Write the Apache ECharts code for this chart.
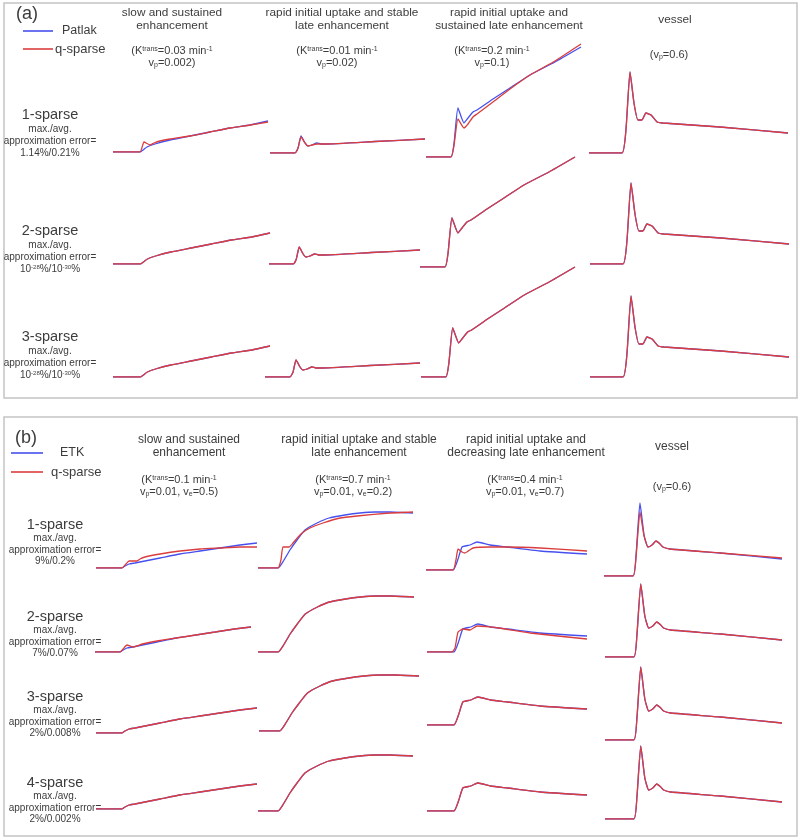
<!DOCTYPE html>
<html><head><meta charset="utf-8">
<script src="https://cdn.jsdelivr.net/npm/echarts@6/dist/echarts.min.js"></script>
<style>html,body{margin:0;padding:0;background:#fff}#c{width:800px;height:840px}</style>
</head><body><div id="c"></div>
<script>
// ---------- Panel (a): Patlak model vs q-sparse (time in % of scan, signal in relative units) ----------
const aSlowT      = [0,17.4,19.4,21.9,27.1,36.8,49.7,62.6,75.5,88.4,100];
const aSlowPatlak = [0,0,2,5,8,12,16,20,24,27,31];
const aSlowQ1T    = [0,17.4,20,23.9,26.5,30.3,36.8,49.7,62.6,75.5,88.4,100];
const aSlowQ1     = [0,0,10,7,9,11,13,16,20,24,27,30];

const aStableT      = [0,16.1,18.1,20,22.6,24.5,27.1,30.3,32.9,35.5,67.7,100];
const aStablePatlak = [0,0,5,17,10,7,8,10,9,9,11.5,14];
const aStableQ1     = [0,0,5,16,10,7,8,9,9,9,11.5,14];

const aSustT      = [0,16.1,18.1,20.6,24.5,27.1,30.3,32.9,43.2,54.2,67.1,83.2,100];
const aSustPatlak = [0,0,14,49,34,39,45,47,58,69,82,95,110];
const aSustQ1     = [0,0,12,38,29,33,40,43,55,68,82,96,113];

const aVesselT      = [0,16.6,18.6,20.6,22.6,24.6,26.6,28.6,31.2,34.2,37.2,65.8,100];
const aVesselPatlak = [0,0,24,81,50,33,33,40,38,31,30,26,20];
const aVesselQ1     = [0,0,24,81,50,33,33,40,38,31,30,26,20];

// ---------- Panel (b): ETK model vs q-sparse ----------
const bSlowT   = [0,16.1,18,20.5,24.2,27.3,30.4,39.8,52.2,64.6,77,89.4,100];
const bSlowETK = [0,0,2,4,5,6,7,10,14,17,20,23,25];
const bSlowQ1T = [0,16.1,18.6,20.5,25.5,27.3,30.4,39.8,52.2,64.6,77,89.4,100];
const bSlowQ1  = [0,0,4,7,7,9,11,14,17,19,20,21,21];
const bSlowQ2T = [0,16.1,18,20.5,24.2,30.4,39.8,52.2,64.6,77,89.4,100];
const bSlowQ2  = [0,0,3,7,5,8,11,14,17,20,23,25];

const bStableT   = [0,12.9,16.8,20.6,25.2,30.3,38.1,45.8,56.1,65.8,75.5,85.2,100];
const bStableETK = [0,0,8,18,28,38,45,50,53,55,56,56,55];
const bStableQ1T = [0,12.9,14.8,16.1,20,22.6,27.7,33.5,41.9,52.9,63.9,85.2,100];
const bStableQ1  = [0,0,8,21,21,25,34,40,45,50,52,55,56];

const bDecrT   = [0,16.8,19.9,22.4,27.3,31.7,39.8,50.3,70.8,100];
const bDecrETK = [0,0,11,23,25,28,25,23,19,16];
const bDecrQ1T = [0,16.8,18.6,19.9,22.4,24.2,29.2,39.8,50.3,70.8,100];
const bDecrQ1  = [0,0,10,21,18,17,22,23,23,22,19];
const bDecrQ2T = [0,15.6,17.5,19.4,22.5,26.9,31.3,45,64.4,100];
const bDecrQ2  = [0,0,4,20,23,22,26,24,19,13];

const bVesselT   = [0,16.3,18,20.2,22.5,24.7,27,29.2,31.5,33.1,37.1,65.2,100];
const bVesselETK = [0,0,21,73,41,29,31,35,32,29,27,23,17];
const bVesselQ1  = [0,0,19,64,40,29,31,35,32,29,27,23,18];

// ---------- texts ----------
const aTitles = [["slow and sustained","enhancement"],["rapid initial uptake and stable","late enhancement"],["rapid initial uptake and","sustained late enhancement"],["vessel"]];
const aParams = [["(K{sup|trans}=0.03 min{sup|-1}","v{sub|p}=0.002)"],["(K{sup|trans}=0.01 min{sup|-1}","v{sub|p}=0.02)"],["(K{sup|trans}=0.2 min{sup|-1}","v{sub|p}=0.1)"],["(v{sub|p}=0.6)"]];
const aRows = ["1-sparse","2-sparse","3-sparse"];
const aErrors = ["1.14%/0.21%","10{sup|-28}%/10{sup|-30}%","10{sup|-28}%/10{sup|-30}%"];
const bTitles = [["slow and sustained","enhancement"],["rapid initial uptake and stable","late enhancement"],["rapid initial uptake and","decreasing late enhancement"],["vessel"]];
const bParams = [["(K{sup|trans}=0.1 min{sup|-1}","v{sub|p}=0.01, v{sub|e}=0.5)"],["(K{sup|trans}=0.7 min{sup|-1}","v{sub|p}=0.01, v{sub|e}=0.2)"],["(K{sup|trans}=0.4 min{sup|-1}","v{sub|p}=0.01, v{sub|e}=0.7)"],["(v{sub|p}=0.6)"]];
const bRows = ["1-sparse","2-sparse","3-sparse","4-sparse"];
const bErrors = ["9%/0.2%","7%/0.07%","2%/0.008%","2%/0.002%"];

// ---------- layout (pixel boxes: x start, x end, baseline) ----------
const aLayout = [
  [[113,268,152],[270,425,153],[426,581,157],[589,788,153]],
  [[113,270,264],[269,420,264],[420,575,267],[590,789,264]],
  [[113,270,377],[265,420,377],[421,575,377],[590,789,377]]
];
const bLayout = [
  [[96,257,568],[258,413,568],[426,587,570],[604,782,576]],
  [[95,251,652],[258,414,652],[427,587,652],[605,782,657]],
  [[96,257,733],[259,419,731],[427,587,725],[605,782,740]],
  [[96,257,809],[258,413,811],[427,587,811],[605,782,819]]
];

const BLUE = '#4650ee', RED = '#db3d3d';
const FONT = '"Liberation Sans", Arial, sans-serif';
const TXT = '#3c3c3c';
const H = 130;
const grids = [], xAxes = [], yAxes = [], series = [];
function pairs(t, v){ return t.map((x,i)=>[x, v[i]]); }
function addCell(lay, bT, bV, rT, rV){
  const i = grids.length;
  const [x0,x1,base] = lay;
  grids.push({left:x0, top:base-H, width:x1-x0, height:H});
  xAxes.push({type:'value', gridIndex:i, min:0, max:100, show:false});
  yAxes.push({type:'value', gridIndex:i, min:0, max:H, show:false});
  const common = {type:'line', xAxisIndex:i, yAxisIndex:i, showSymbol:false, symbol:'none', smooth:0.15, silent:true};
  series.push(Object.assign({}, common, {data:pairs(bT,bV), lineStyle:{color:BLUE,width:1.3}, z:2}));
  series.push(Object.assign({}, common, {data:pairs(rT,rV), lineStyle:{color:RED,width:1.3}, z:3}));
}
// panel (a)
const aBlue = [[aSlowT,aSlowPatlak],[aStableT,aStablePatlak],[aSustT,aSustPatlak],[aVesselT,aVesselPatlak]];
const aRed1 = [[aSlowQ1T,aSlowQ1],[aStableT,aStableQ1],[aSustT,aSustQ1],[aVesselT,aVesselQ1]];
for (let r=0;r<3;r++) for (let c=0;c<4;c++){
  const b = aBlue[c], q = r===0 ? aRed1[c] : aBlue[c];
  addCell(aLayout[r][c], b[0], b[1], q[0], q[1]);
}
// panel (b)
const bBlue = [[bSlowT,bSlowETK],[bStableT,bStableETK],[bDecrT,bDecrETK],[bVesselT,bVesselETK]];
const bRed = [
  [[bSlowQ1T,bSlowQ1],[bStableQ1T,bStableQ1],[bDecrQ1T,bDecrQ1],[bVesselT,bVesselQ1]],
  [[bSlowQ2T,bSlowQ2],[bStableT,bStableETK],[bDecrQ2T,bDecrQ2],[bVesselT,bVesselETK]]
];
for (let r=0;r<4;r++) for (let c=0;c<4;c++){
  const b = bBlue[c], q = r<2 ? bRed[r][c] : bBlue[c];
  addCell(bLayout[r][c], b[0], b[1], q[0], q[1]);
}

// ---------- graphic texts ----------
const g = [];
function txt(x,y,text,size,extra){
  const st = {text:text, fontSize:size, fontFamily:FONT, fill:TXT,
    align:'center', verticalAlign:'middle', textAlign:'center', textVerticalAlign:'middle',
    rich:{ sup:{fontSize:Math.round(size*0.62), fontFamily:FONT, fill:TXT, verticalAlign:'top'},
           sub:{fontSize:Math.round(size*0.62), fontFamily:FONT, fill:TXT, verticalAlign:'bottom'} } };
  Object.assign(st, extra||{});
  g.push({type:'text', x:x, y:y, silent:true, style:st});
}
function line(x1,y1,x2,y2,color){ g.push({type:'line', silent:true, shape:{x1,y1,x2,y2}, style:{stroke:color,lineWidth:1.6}}); }
// borders
g.push({type:'rect', silent:true, shape:{x:4,y:3,width:793,height:395}, style:{fill:'none',stroke:'#c4c4c4',lineWidth:1.5}});
g.push({type:'rect', silent:true, shape:{x:4,y:417,width:793,height:419}, style:{fill:'none',stroke:'#c4c4c4',lineWidth:1.5}});
// panel (a) header
txt(27,14,'(a)',18);
line(23,31,53,31,BLUE); txt(62,31,'Patlak',12.5,{align:'left',textAlign:'left'});
line(23,49,53,49,RED);  txt(55,49,'q-sparse',13,{align:'left',textAlign:'left'});
const aTitleX = [172,342,509,675], aParamX = [172,337,492,669];
aTitles.forEach((t,c)=>{ if (t.length===2){ txt(aTitleX[c],13,t[0],11.8); txt(aTitleX[c],26,t[1],11.8);} else txt(aTitleX[c],20,t[0],11.8); });
aParams.forEach((p,c)=>{ if (p.length===2){ txt(aParamX[c],51,p[0],11); txt(aParamX[c],63,p[1],11);} else txt(aParamX[c],55,p[0],11); });
const aRowY = [115,231,337];
aRows.forEach((s,r)=>{ const y=aRowY[r]; txt(50,y,s,14.5); txt(50,y+14,'max./avg.',10); txt(50,y+26,'approximation error=',10); txt(50,y+38,aErrors[r],10); });
// panel (b) header
txt(26,438,'(b)',18);
line(11,453,43,453,BLUE); txt(60,453,'ETK',12.5,{align:'left',textAlign:'left'});
line(11,472,43,472,RED);  txt(51,472,'q-sparse',13,{align:'left',textAlign:'left'});
const bTitleX = [189,359,526,672], bParamX = [179,353,525,672];
bTitles.forEach((t,c)=>{ if (t.length===2){ txt(bTitleX[c],440,t[0],12); txt(bTitleX[c],453,t[1],12);} else txt(bTitleX[c],447,t[0],12); });
bParams.forEach((p,c)=>{ if (p.length===2){ txt(bParamX[c],480,p[0],11); txt(bParamX[c],492,p[1],11);} else txt(bParamX[c],487,p[0],11); });
const bRowY = [525,617,697,783];
bRows.forEach((s,r)=>{ const y=bRowY[r]; txt(55,y,s,14.5); txt(55,y+13,'max./avg.',10); txt(55,y+25,'approximation error=',10); txt(55,y+36,bErrors[r],10); });

const chart = echarts.init(document.getElementById('c'), null, {renderer:'canvas'});
chart.setOption({
  animation:false,
  backgroundColor:'#fff',
  grid:grids, xAxis:xAxes, yAxis:yAxes, series:series,
  graphic:{elements:g}
});
</script>
</body></html>
